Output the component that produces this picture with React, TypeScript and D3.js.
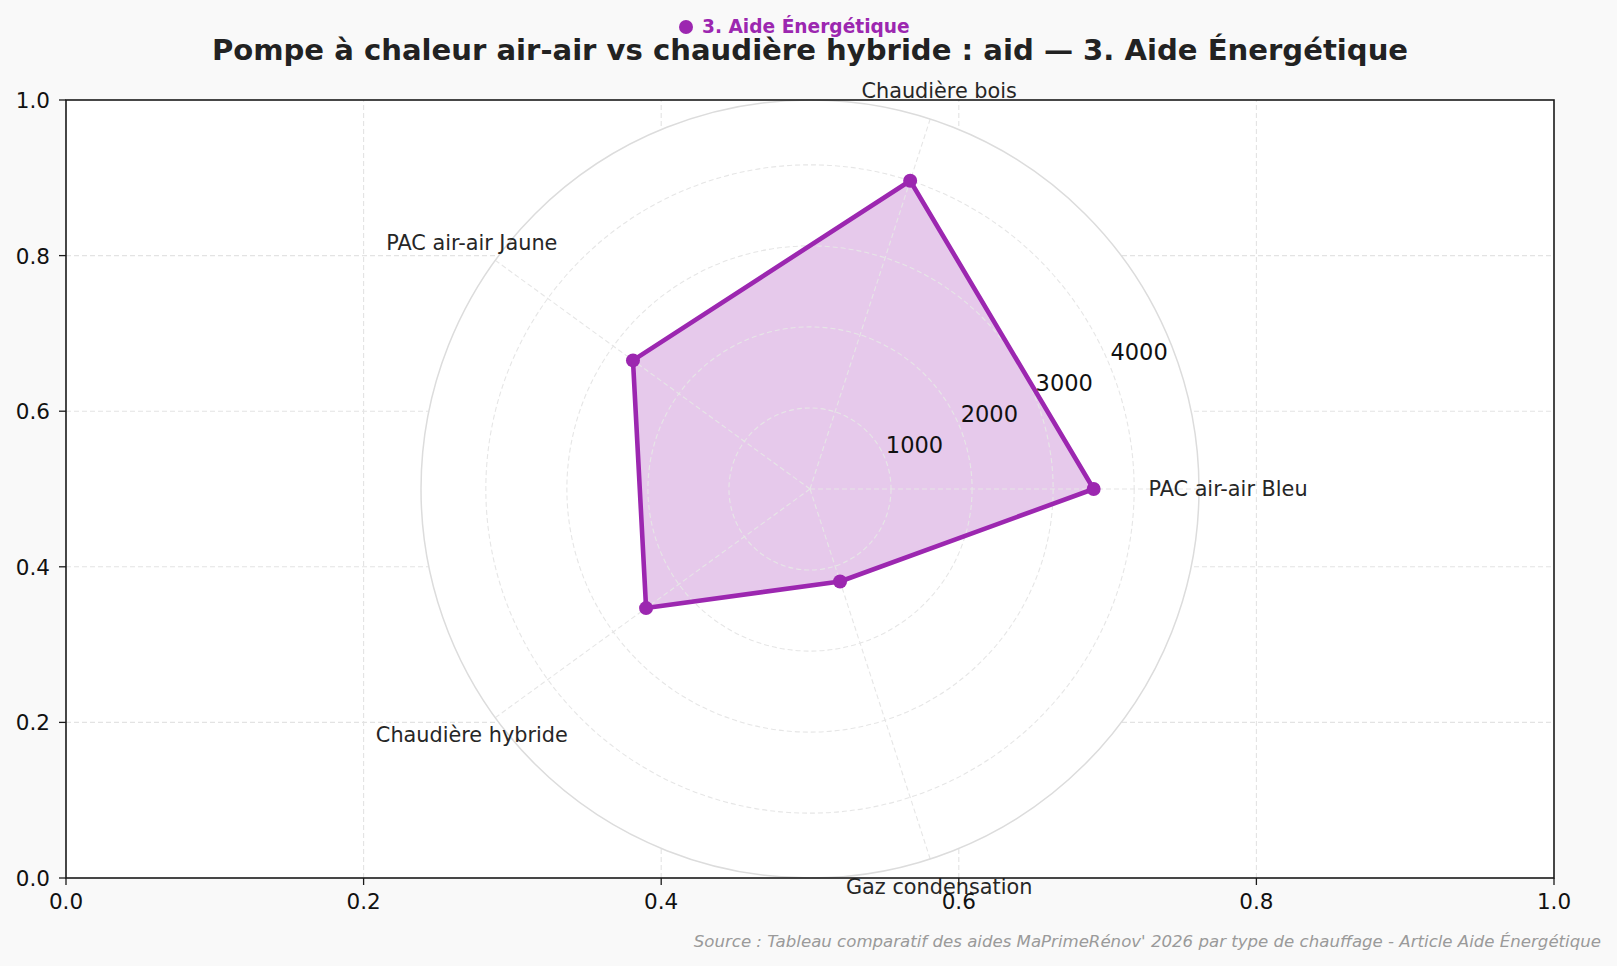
import { useEffect, useRef } from "react";
import * as d3 from "d3";

// categories of the radar, counter-clockwise from the right
const categories = [
  "PAC air-air Bleu",
  "Chaudière bois",
  "PAC air-air Jaune",
  "Chaudière hybride",
  "Gaz condensation",
];
// aid amounts (€)
const aidValues = [3500, 4000, 2700, 2500, 1200];
const radialTicks = [1000, 2000, 3000, 4000];
const radialMax = 4800;
const cartTicks = [0, 0.2, 0.4, 0.6, 0.8, 1.0];
const seriesName = "3. Aide Énergétique";
const title = "Pompe à chaleur air-air vs chaudière hybride : aid — 3. Aide Énergétique";
const source =
  "Source : Tableau comparatif des aides MaPrimeRénov' 2026 par type de chauffage - Article Aide Énergétique";

const W = 1617;
const H = 966;
const PURPLE = "#9C27B0";
const FONT = "DejaVu Sans, sans-serif";

const App = () => {
  const svgRef = useRef<SVGSVGElement | null>(null);

  useEffect(() => {
    if (!svgRef.current) return;
    const svg = d3.select(svgRef.current);
    svg.selectAll("*").remove();

    svg.append("rect").attr("width", W).attr("height", H).attr("fill", "#f9f9f9");

    const x = d3.scaleLinear().domain([0, 1]).range([66, 1554]);
    const y = d3.scaleLinear().domain([0, 1]).range([878, 100]);

    // cartesian axes background + grid
    svg
      .append("rect")
      .attr("x", x(0))
      .attr("y", y(1))
      .attr("width", x(1) - x(0))
      .attr("height", y(0) - y(1))
      .attr("fill", "#fff");

    const grid = svg.append("g").attr("stroke", "#e3e3e3").attr("stroke-width", 1.1).attr("stroke-dasharray", "5,3");
    cartTicks.slice(1, -1).forEach((t) => {
      grid.append("line").attr("x1", x(t)).attr("x2", x(t)).attr("y1", y(0)).attr("y2", y(1));
      grid.append("line").attr("x1", x(0)).attr("x2", x(1)).attr("y1", y(t)).attr("y2", y(t));
    });

    // polar part
    const cx = x(0.5);
    const cy = y(0.5);
    const r = d3.scaleLinear().domain([0, radialMax]).range([0, (y(0) - y(1)) / 2]);
    const angle = (i: number) => (i * 2 * Math.PI) / categories.length;
    const px = (i: number, v: number) => cx + r(v) * Math.cos(angle(i));
    const py = (i: number, v: number) => cy - r(v) * Math.sin(angle(i));

    svg.append("circle").attr("cx", cx).attr("cy", cy).attr("r", r(radialMax)).attr("fill", "#fff");

    const polar = svg.append("g").attr("transform", `translate(${cx},${cy})`);

    // fill
    const radial = d3
      .lineRadial<number>()
      .angle((_, i) => Math.PI / 2 - angle(i))
      .radius((d) => r(d))
      .curve(d3.curveLinearClosed);

    polar
      .append("path")
      .attr("d", radial(aidValues))
      .attr("fill", PURPLE)
      .attr("fill-opacity", 0.25);

    // polar grid (above fill, below line)
    const pg = polar.append("g").attr("fill", "none").attr("stroke", "#e6e6e6").attr("stroke-width", 1.1).attr("stroke-dasharray", "5,3");
    radialTicks.forEach((t) => pg.append("circle").attr("r", r(t)));
    categories.forEach((_, i) => {
      pg.append("line")
        .attr("x1", 0)
        .attr("y1", 0)
        .attr("x2", r(radialMax) * Math.cos(angle(i)))
        .attr("y2", -r(radialMax) * Math.sin(angle(i)));
    });
    polar
      .append("circle")
      .attr("r", r(radialMax))
      .attr("fill", "none")
      .attr("stroke", "#dcdcdc")
      .attr("stroke-width", 1.5);

    // radar line + markers
    polar
      .append("path")
      .attr("d", radial(aidValues))
      .attr("fill", "none")
      .attr("stroke", PURPLE)
      .attr("stroke-width", 4.6)
      .attr("stroke-linejoin", "round");

    svg
      .append("g")
      .selectAll("circle")
      .data(aidValues)
      .join("circle")
      .attr("cx", (d, i) => px(i, d))
      .attr("cy", (d, i) => py(i, d))
      .attr("r", 7)
      .attr("fill", PURPLE);

    // radial tick labels at 22.5°
    const la = (22.5 * Math.PI) / 180;
    svg
      .append("g")
      .selectAll("text")
      .data(radialTicks)
      .join("text")
      .attr("x", (d) => cx + r(d) * Math.cos(la) + 1)
      .attr("y", (d) => cy - r(d) * Math.sin(la) - 5)
      .attr("font-family", FONT)
      .attr("font-size", 22.5)
      .attr("fill", "#111")
      .text((d) => d);

    // category labels
    svg
      .append("g")
      .selectAll("text")
      .data(categories)
      .join("text")
      .attr("x", (_, i) => cx + (r(radialMax) + 29) * Math.cos(angle(i)))
      .attr("y", (_, i) => cy - (r(radialMax) + 29) * Math.sin(angle(i)) + 7)
      .attr("text-anchor", "middle")
      .attr("font-family", FONT)
      .attr("font-size", 20.8)
      .attr("fill", "#262626")
      .text((d) => d);

    // spines
    svg
      .append("rect")
      .attr("x", x(0))
      .attr("y", y(1))
      .attr("width", x(1) - x(0))
      .attr("height", y(0) - y(1))
      .attr("fill", "none")
      .attr("stroke", "#1a1a1a")
      .attr("stroke-width", 1.6);

    // ticks
    const ticks = svg.append("g").attr("font-family", FONT).attr("font-size", 21.5).attr("fill", "#111");
    cartTicks.forEach((t) => {
      ticks.append("line").attr("x1", x(t)).attr("x2", x(t)).attr("y1", y(0)).attr("y2", y(0) + 7).attr("stroke", "#1a1a1a").attr("stroke-width", 1.3);
      ticks
        .append("text")
        .attr("x", x(t))
        .attr("y", y(0) + 31)
        .attr("text-anchor", "middle")
        .text(d3.format(".1f")(t));
      ticks.append("line").attr("x1", x(0) - 7).attr("x2", x(0)).attr("y1", y(t)).attr("y2", y(t)).attr("stroke", "#1a1a1a").attr("stroke-width", 1.3);
      ticks
        .append("text")
        .attr("x", x(0) - 16)
        .attr("y", y(t) + 8)
        .attr("text-anchor", "end")
        .text(d3.format(".1f")(t));
    });

    // title
    svg
      .append("text")
      .attr("x", cx)
      .attr("y", 60)
      .attr("text-anchor", "middle")
      .attr("font-family", FONT)
      .attr("font-weight", "bold")
      .attr("font-size", 29.1)
      .attr("fill", "#222")
      .text(title);

    // legend
    svg.append("circle").attr("cx", 686).attr("cy", 27).attr("r", 7).attr("fill", PURPLE);
    svg
      .append("text")
      .attr("x", 702)
      .attr("y", 33)
      .attr("font-family", FONT)
      .attr("font-weight", "bold")
      .attr("font-size", 18.6)
      .attr("fill", PURPLE)
      .text(seriesName);

    // source
    svg
      .append("text")
      .attr("x", 1601)
      .attr("y", 947)
      .attr("text-anchor", "end")
      .attr("font-family", FONT)
      .attr("font-style", "italic")
      .attr("font-size", 16.6)
      .attr("fill", "#9a9a9a")
      .text(source);
  }, []);

  return (
    <svg
      ref={svgRef}
      width={W}
      height={H}
      style={{ display: "block", position: "absolute", left: 0, top: 0 }}
    />
  );
};

export default App;
